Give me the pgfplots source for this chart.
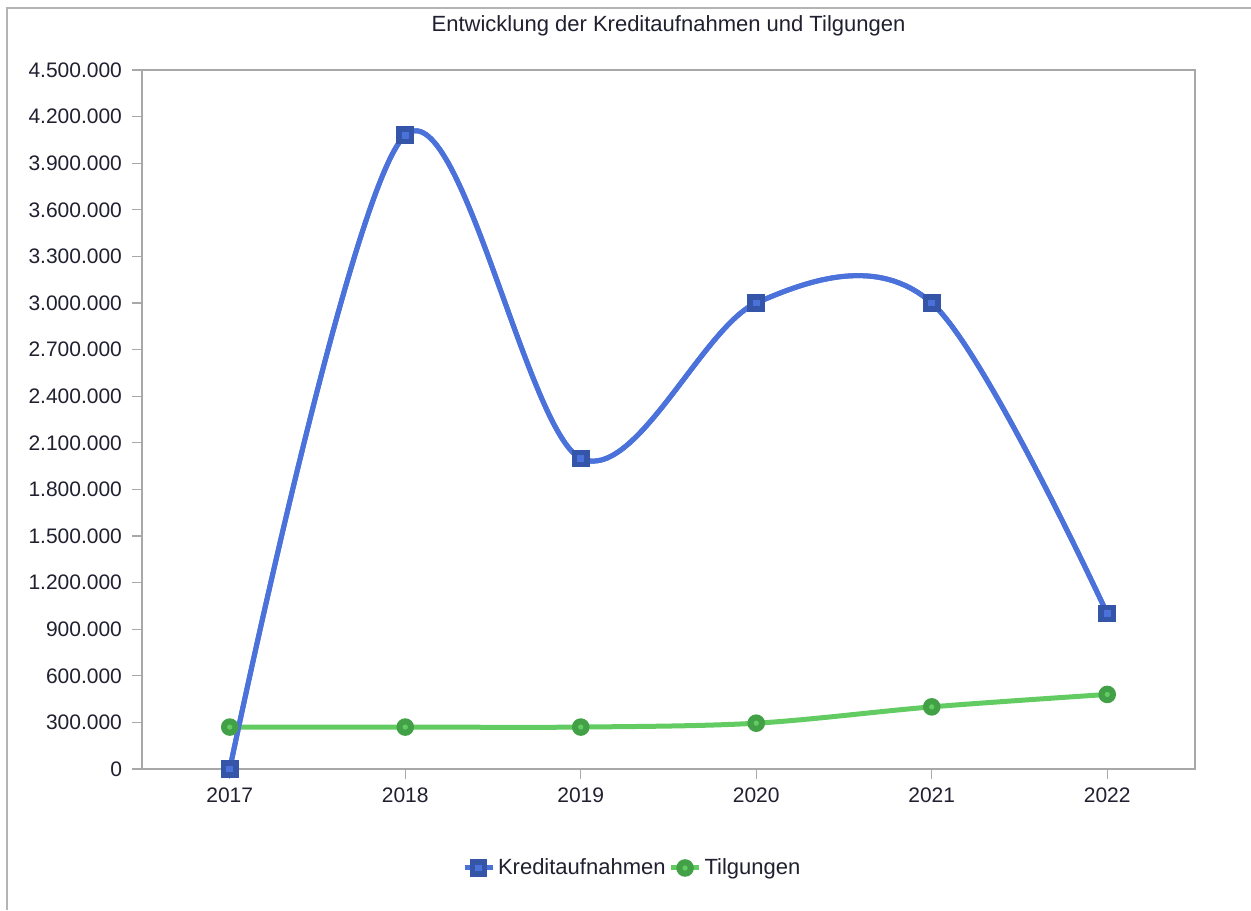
\documentclass[border=0pt]{standalone}
\usepackage{fontspec}
\setmainfont{Liberation Sans}
\usepackage{pgfplots}
\usepackage{pgfplotstable}
\pgfplotsset{compat=1.18}
\definecolor{lnblue}{HTML}{4A72DA}
\definecolor{mkblue}{HTML}{3556A8}
\definecolor{lngreen}{HTML}{62CC62}
\definecolor{mkgreen}{HTML}{42A047}
\definecolor{framegray}{HTML}{A8A8A8}
\definecolor{bordergray}{HTML}{B4B4B4}
\definecolor{txt}{HTML}{202030}

\pgfplotstableread{
x year kredit tilgung
0 2017 0 270000
1 2018 4080000 270000
2 2019 2000000 270000
3 2020 3000000 295000
4 2021 3000000 400000
5 2022 1000000 480000
}\datatable

\pgfdeclareplotmark{bsq}{%
 \pgfpathrectangle{\pgfpoint{-\pgfplotmarksize}{-\pgfplotmarksize}}{\pgfpoint{2\pgfplotmarksize}{2\pgfplotmarksize}}%
 \pgfsetfillcolor{mkblue}\pgfusepath{fill}%
 \pgfpathrectangle{\pgfpoint{-0.38\pgfplotmarksize}{-0.38\pgfplotmarksize}}{\pgfpoint{0.76\pgfplotmarksize}{0.76\pgfplotmarksize}}%
 \pgfsetfillcolor{lnblue}\pgfusepath{fill}}
\pgfdeclareplotmark{gci}{%
 \pgfpathcircle{\pgfpointorigin}{\pgfplotmarksize}%
 \pgfsetfillcolor{mkgreen}\pgfusepath{fill}%
 \pgfpathcircle{\pgfpointorigin}{0.3\pgfplotmarksize}%
 \pgfsetfillcolor{lngreen}\pgfusepath{fill}}

\begin{document}
\begin{tikzpicture}
\path[use as bounding box, fill=white] (0,0) rectangle (625.5pt,455pt);
\draw[bordergray, line width=1pt] (3.5pt,0pt) -- (3.5pt,451pt) -- (625.5pt,451pt);
\node[text=txt, font=\fontsize{11}{13}\selectfont] at (334.25pt,442pt) {Entwicklung der Kreditaufnahmen und Tilgungen};
\begin{axis}[
  at={(71pt,70.5pt)}, anchor=south west,
  scale only axis, width=526.5pt, height=349.5pt,
  xmin=-0.5, xmax=5.5, ymin=0, ymax=4500000,
  xtick={0,1,2,3,4,5}, xticklabels={2017,2018,2019,2020,2021,2022},
  ytick={0,300000,600000,900000,1200000,1500000,1800000,2100000,2400000,2700000,3000000,3300000,3600000,3900000,4200000,4500000},
  scaled y ticks=false,
  yticklabel style={/pgf/number format/.cd, fixed, 1000 sep={.}, assume math mode=true, /tikz/.cd, xshift=-1.5pt},
  xticklabel style={yshift=-1pt},
  axis line style={framegray, line width=1pt},
  tick style={framegray, line width=0.6pt},
  tick align=outside, major tick length=5pt,
  xtick pos=lower, ytick pos=left,
  ticklabel style={font=\fontsize{10.5}{12}\selectfont, text=txt},
  clip=false,
  legend columns=2,
  legend style={at={(0.466,-0.1416)}, anchor=center, draw=none, fill=none,
    font=\fontsize{11}{13}\selectfont, text=txt,
    /tikz/every even column/.append style={column sep=0pt},
    nodes={inner sep=1.5pt}},
  legend image code/.code={\draw[mark repeat=2, mark phase=2, #1] plot coordinates {(0pt,0pt) (7pt,0pt) (14pt,0pt)};},
]
\addplot[lnblue, line width=2.5pt, smooth, tension=0.55, mark=bsq, mark size=4.4pt] table[x=x, y=kredit] {\datatable};
\addlegendentry{Kreditaufnahmen}
\addplot[lngreen, line width=2.5pt, smooth, tension=0.55, mark=gci, mark size=4.4pt] table[x=x, y=tilgung] {\datatable};
\addlegendentry{Tilgungen}
\addplot[lnblue, line width=2.5pt, smooth, tension=0.55, mark=bsq, mark size=4.4pt, forget plot] table[x=x, y=kredit] {\datatable};
\end{axis}
\end{tikzpicture}
\end{document}
